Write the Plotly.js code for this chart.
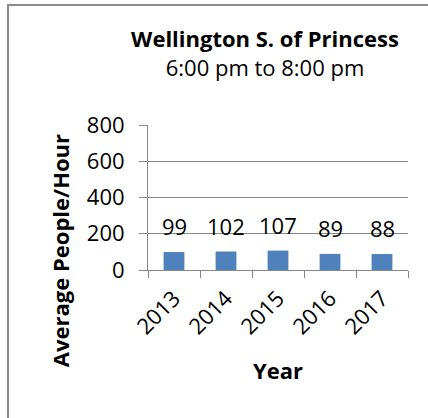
<!DOCTYPE html>
<html>
<head>
<meta charset="utf-8">
<script src="https://cdn.plot.ly/plotly-3.0.1.min.js"></script>
<style>
html,body{margin:0;padding:0;background:#fff;}
#chart{position:absolute;left:0;top:0;width:428px;height:418px;}
#frame{position:absolute;left:7px;top:4px;width:421px;height:414px;border-left:2px solid #8c8c8c;border-top:2px solid #8c8c8c;box-sizing:border-box;pointer-events:none;}
</style>
</head>
<body>
<div id="chart"></div>
<div id="frame"></div>
<script>
const years = ['2013', '2014', '2015', '2016', '2017'];
const people = [99, 102, 107, 89, 88];
const titleText = '<b>Wellington S. of Princess</b><br>6:00 pm to 8:00 pm';
const xTitle = 'Year';
const yTitle = 'Average People/Hour';

const FONT = '"Open Sans", sans-serif';
const grid = '#878787';

const trace = {
  type: 'bar',
  x: years,
  y: people,
  marker: {color: '#4F81BD'},
  hoverinfo: 'x+y'
};

const labels = years.map((yr, i) => ({
  x: i, y: people[i], xref: 'x', yref: 'y',
  text: String(people[i]), showarrow: false,
  yanchor: 'middle', yshift: 26,
  font: {family: FONT, size: 22, color: '#000'}
}));

labels.push({
  xref: 'paper', yref: 'paper', x: -0.338, y: 0.131,
  xanchor: 'center', yanchor: 'middle',
  text: '<b>' + yTitle + '</b>', textangle: -90, showarrow: false,
  font: {family: FONT, size: 22, color: '#000'}
});

const layout = {
  width: 428, height: 418,
  margin: {l: 148, r: 20, t: 125, b: 148},
  paper_bgcolor: '#fff', plot_bgcolor: '#fff',
  showlegend: false,
  bargap: 0.6,
  font: {family: FONT, color: '#000'},
  title: {
    text: titleText,
    x: 265/428, xanchor: 'center', xref: 'container',
    y: 1 - 47/418, yanchor: 'top', yref: 'container',
    font: {family: FONT, size: 22, color: '#000'}
  },
  xaxis: {
    type: 'category',
    categoryorder: 'array', categoryarray: years,
    range: [-0.5, years.length - 0.5],
    tickangle: -45,
    ticks: 'outside', ticklen: 7, tickcolor: grid, tickwidth: 1,
    tickson: 'boundaries',
    ticklabelstandoff: 6,
    showline: true, linecolor: grid, linewidth: 1,
    showgrid: false,
    tickfont: {family: FONT, size: 22, color: '#000'},
    title: {text: '<b>' + xTitle + '</b>', standoff: 24, font: {family: FONT, size: 22, color: '#000'}}
  },
  yaxis: {
    range: [0, 800], dtick: 200, tick0: 0,
    ticks: 'outside', ticklen: 8, tickcolor: grid, tickwidth: 1,
    ticklabelstandoff: 10,
    showline: true, linecolor: grid, linewidth: 1,
    showgrid: true, gridcolor: grid, gridwidth: 1,
    zeroline: false,
    tickfont: {family: FONT, size: 22, color: '#000'}
  },
  annotations: labels
};

Plotly.newPlot('chart', [trace], layout, {displayModeBar: false, staticPlot: true});
</script>
</body>
</html>
